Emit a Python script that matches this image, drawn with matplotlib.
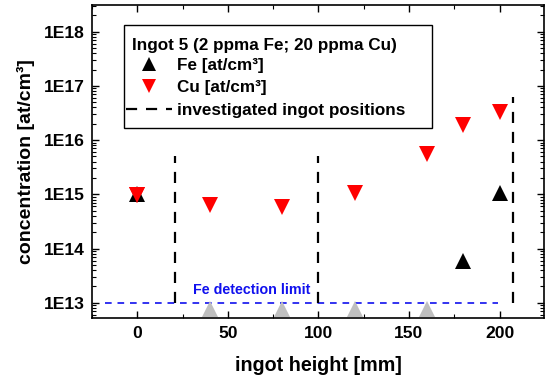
import math
import matplotlib
matplotlib.use("Agg")
import matplotlib.pyplot as plt
from matplotlib.ticker import FuncFormatter, MultipleLocator, LogLocator, NullFormatter
from matplotlib.lines import Line2D
from matplotlib.patches import Rectangle

plt.rcParams['font.family'] = ['Liberation Sans', 'DejaVu Sans']
plt.rcParams['font.weight'] = 'bold'

# data
fe_x = [0, 180, 200]
fe_y = [1.0e15, 6.0e13, 1.05e15]
fe_below_x = [40, 80, 120, 160]
fe_below_y = [7.6e12, 7.6e12, 7.6e12, 7.6e12]
cu_x = [0, 40, 80, 120, 160, 180, 200]
cu_y = [9.6e14, 6.3e14, 5.9e14, 1.05e15, 5.5e15, 1.9e16, 3.3e16]
pos_x = [21, 100, 207.5]
pos_top = [5.0e15, 5.0e15, 6.3e16]
pos_bottom = [1e13, 1e13, 1e13]
det_limit = 1e13
det_x = [-18, 199]
legend_title = 'Ingot 5 (2 ppma Fe; 20 ppma Cu)'
labels = ['Fe [at/cm³]', 'Cu [at/cm³]', 'investigated ingot positions']

fig = plt.figure(figsize=(5.45, 3.78), dpi=100)
ax = fig.add_axes([0.1688, 0.1587, 0.8292, 0.828])

ax.plot(det_x, [det_limit, det_limit], color='#1010ee', lw=1.2, dashes=(4, 3.5))
ax.text(30.5, 10**13.24, 'Fe detection limit', color='#1010ee', fontsize=10.3,
        fontweight='bold', va='center', ha='left')

for x, t, b in zip(pos_x, pos_top, pos_bottom):
    ax.plot([x, x], [b, t], color='black', lw=1.6, dashes=(5, 4))

ax.plot(fe_below_x, fe_below_y, '^', color='#bfbfbf', ms=11, mew=0, clip_on=False)
ax.plot(cu_x, cu_y, 'v', color='#ff0000', ms=11, mew=0)
ax.plot(fe_x, fe_y, '^', color='black', ms=11, mew=0)
ax.plot([0], [cu_y[0]], 'v', color='#ff0000', ms=11, mew=0)

ax.set_yscale('log')
ax.set_xlim(-25, 224.5)
ax.set_ylim(10**12.72, 10**18.49)

ax.xaxis.set_major_locator(MultipleLocator(50))
ax.xaxis.set_minor_locator(MultipleLocator(25))
ax.yaxis.set_major_locator(LogLocator(base=10, numticks=20))
ax.yaxis.set_minor_locator(LogLocator(base=10, subs=range(2, 10), numticks=20))
ax.yaxis.set_minor_formatter(NullFormatter())
ax.yaxis.set_major_formatter(FuncFormatter(lambda v, p: '1E%d' % round(math.log10(v))))

ax.tick_params(which='both', direction='in', top=True, right=True, labelsize=12.6)
ax.tick_params(which='major', length=5, width=1)
ax.tick_params(which='minor', length=3, width=0.8)
ax.tick_params(axis='y', pad=5.5)
ax.tick_params(axis='x', pad=6)
for lab in ax.get_xticklabels() + ax.get_yticklabels():
    lab.set_fontweight('bold')
for s in ax.spines.values():
    s.set_linewidth(1.2)

ax.set_xlabel('ingot height [mm]', fontsize=14.2, fontweight='bold', labelpad=10.5)
ax.set_ylabel('concentration [at/cm³]', fontsize=14, fontweight='bold', labelpad=6)

# legend frame and title drawn manually, legend entries via ax.legend
ax.add_patch(Rectangle((0.0708, 0.607), 0.6814, 0.329, transform=ax.transAxes,
                       facecolor='white', edgecolor='black', lw=1.0, zorder=4))
ax.text(0.0885, 0.872, legend_title, transform=ax.transAxes, fontsize=12.3,
        fontweight='bold', va='center', ha='left', zorder=5)

handles = [
    Line2D([], [], marker='^', color='black', ls='none', ms=9.5, mew=0),
    Line2D([], [], marker='v', color='#ff0000', ls='none', ms=9.5, mew=0),
    Line2D([], [], color='black', lw=1.6, dashes=(5, 4)),
]
leg = ax.legend(handles, labels, loc='upper left', bbox_to_anchor=(0.0752, 0.832),
                prop={'size': 12.3, 'weight': 'bold'}, frameon=False,
                handlelength=2.7, handletextpad=0.3, borderpad=0, labelspacing=0.44,
                borderaxespad=0)
leg.set_zorder(6)

fig.savefig('out.png', dpi=100)
